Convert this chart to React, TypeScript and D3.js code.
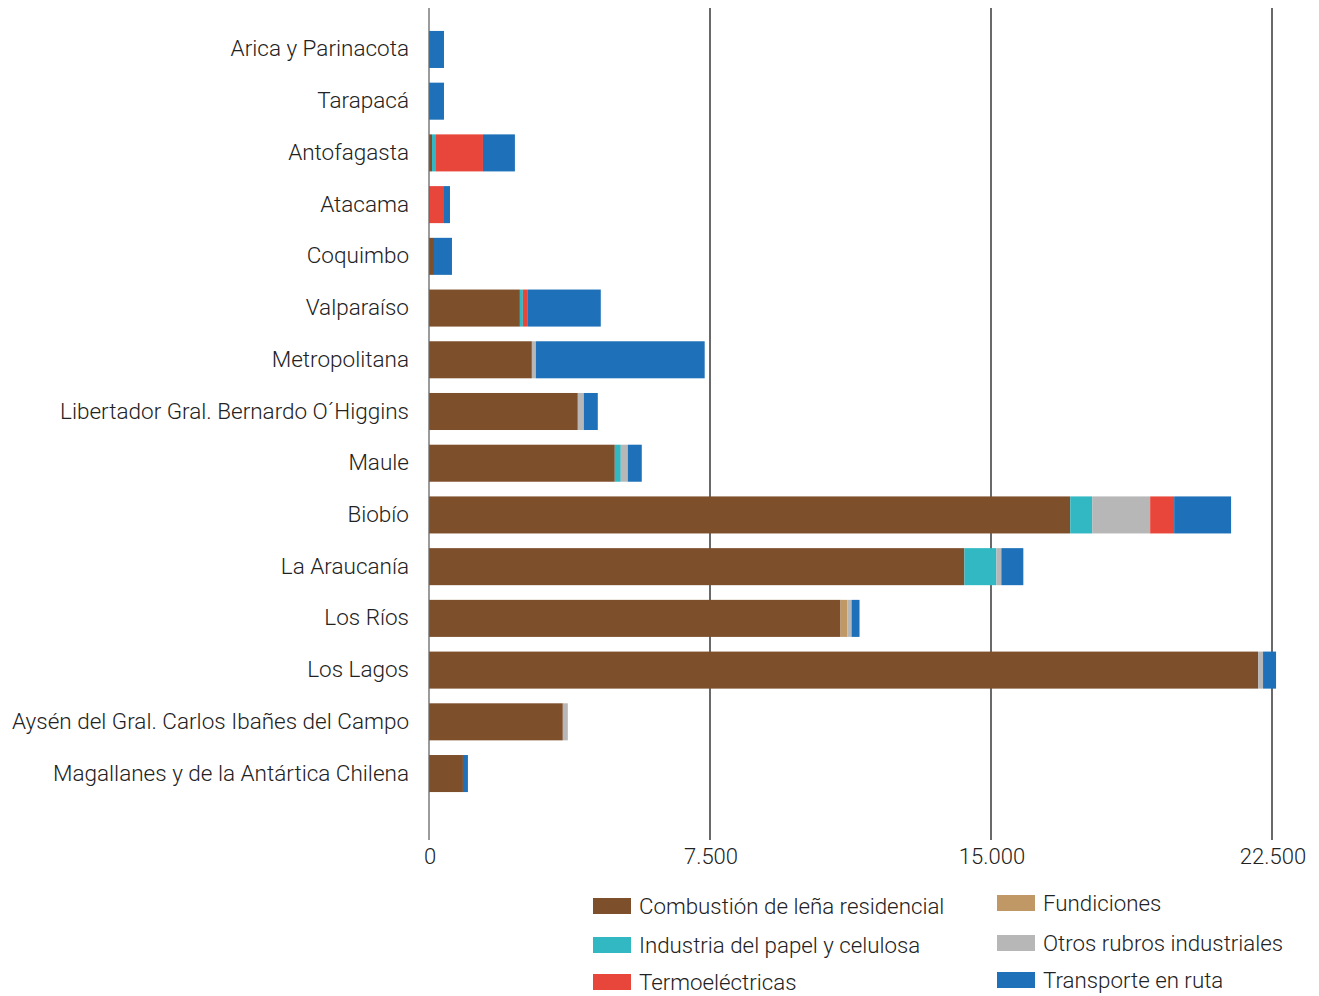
import React from "react";
import * as d3 from "d3";

const regions = [
  "Arica y Parinacota",
  "Tarapacá",
  "Antofagasta",
  "Atacama",
  "Coquimbo",
  "Valparaíso",
  "Metropolitana",
  "Libertador Gral. Bernardo O´Higgins",
  "Maule",
  "Biobío",
  "La Araucanía",
  "Los Ríos",
  "Los Lagos",
  "Aysén del Gral. Carlos Ibañes del Campo",
  "Magallanes y de la Antártica Chilena",
];

const lena = [0, 0, 80, 0, 133, 2426, 2746, 3972, 4959, 17115, 14290, 10984, 22128, 3572, 906];
const papel = [0, 0, 107, 0, 0, 80, 0, 0, 160, 587, 853, 0, 0, 0, 0];
const fundiciones = [0, 0, 0, 0, 0, 0, 0, 0, 0, 0, 0, 187, 0, 0, 0];
const otros = [0, 0, 0, 0, 0, 0, 107, 160, 187, 1546, 133, 107, 133, 133, 0];
const termo = [0, 0, 1253, 400, 0, 133, 0, 0, 0, 640, 0, 0, 0, 0, 0];
const transporte = [400, 400, 853, 160, 480, 1946, 4505, 373, 373, 1520, 587, 213, 347, 0, 133];

const seriesNames = [
  "Combustión de leña residencial",
  "Industria del papel y celulosa",
  "Fundiciones",
  "Otros rubros industriales",
  "Termoeléctricas",
  "Transporte en ruta",
];
const seriesColors = ["#7E4F2B", "#31B8C3", "#BF9866", "#B7B7B7", "#E8463B", "#1E71B8"];
const seriesValues = [lena, papel, fundiciones, otros, termo, transporte];

const xTicks = [0, 7500, 15000, 22500];

const FONT = "Roboto, 'Noto Sans', sans-serif";

export default function App() {
  const x = d3.scaleLinear().domain([0, 22500]).range([429, 1272]);
  const y = d3
    .scaleBand<string>()
    .domain(regions)
    .range([23.6, 799.4])
    .paddingInner(0.284)
    .paddingOuter(0.142);

  const table = regions.map((r, i) => {
    const row: any = { region: r };
    seriesNames.forEach((s, k) => (row[s] = seriesValues[k][i]));
    return row;
  });
  const stacked = d3.stack<any>().keys(seriesNames)(table);
  const fmt = (v: number) => d3.format(",")(v).replace(/,/g, ".");

  const legendItems = [
    { i: 0, sx: 593, sy: 898, tx: 639 },
    { i: 1, sx: 593, sy: 937, tx: 639 },
    { i: 4, sx: 593, sy: 974, tx: 639 },
    { i: 2, sx: 997, sy: 895, tx: 1043 },
    { i: 3, sx: 997, sy: 935, tx: 1043 },
    { i: 5, sx: 997, sy: 972, tx: 1043 },
  ];

  return (
    <svg
      width={1319}
      height={996}
      style={{ position: "absolute", left: 0, top: 0, background: "#fff" }}
      fontFamily={FONT}
      fontWeight={300}
    >
      {/* gridlines */}
      {xTicks.slice(1).map((t) => (
        <line key={t} x1={x(t)} x2={x(t)} y1={8} y2={840} stroke="#1a1a1a" strokeWidth={1.3} />
      ))}
      {/* bars */}
      {stacked.map((layer, k) => (
        <g key={seriesNames[k]} fill={seriesColors[k]}>
          {layer.map((d, i) => {
            const w = x(d[1]) - x(d[0]);
            if (w <= 0) return null;
            return (
              <rect
                key={i}
                x={x(d[0])}
                y={y(regions[i])}
                width={w}
                height={y.bandwidth()}
              />
            );
          })}
        </g>
      ))}
      {/* zero axis */}
      <line x1={x(0)} x2={x(0)} y1={8} y2={840} stroke="#666" strokeWidth={1.3} />
      {/* category labels */}
      {regions.map((r) => (
        <text
          key={r}
          x={409}
          y={(y(r) as number) + y.bandwidth() / 2 + 7}
          textAnchor="end"
          fontSize={22.5}
          fill="#222"
        >
          {r}
        </text>
      ))}
      {/* tick labels */}
      {xTicks.map((t) => (
        <text key={t} x={x(t) + 1} y={864} textAnchor="middle" fontSize={22} fill="#222">
          {fmt(t)}
        </text>
      ))}
      {/* legend */}
      {legendItems.map((l) => (
        <g key={l.i}>
          <rect x={l.sx} y={l.sy} width={38} height={16} fill={seriesColors[l.i]} />
          <text x={l.tx} y={l.sy + 16} fontSize={22.3} fill="#222">
            {seriesNames[l.i]}
          </text>
        </g>
      ))}
    </svg>
  );
}
